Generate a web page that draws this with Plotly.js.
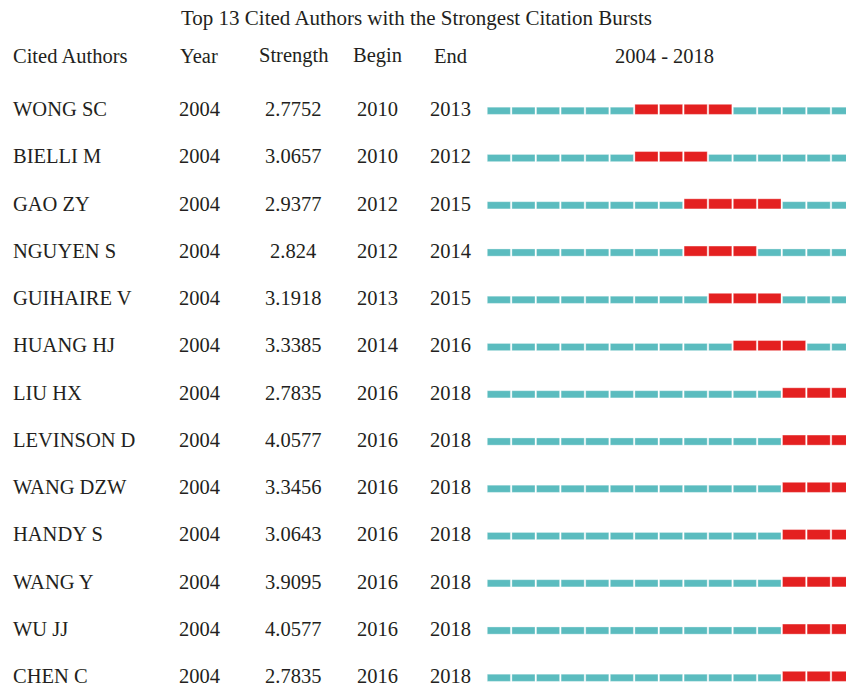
<!DOCTYPE html>
<html>
<head>
<meta charset="utf-8">
<script src="https://cdn.plot.ly/plotly-3.0.1.min.js"></script>
<style>html,body{margin:0;padding:0;background:#fff;}#chart{width:846px;height:686px;}</style>
</head>
<body>
<div id="chart"></div>
<script>
// ---- Data ----
const authors = ["WONG SC","BIELLI M","GAO ZY","NGUYEN S","GUIHAIRE V","HUANG HJ","LIU HX","LEVINSON D","WANG DZW","HANDY S","WANG Y","WU JJ","CHEN C"];
const firstYear = [2004,2004,2004,2004,2004,2004,2004,2004,2004,2004,2004,2004,2004];
const strength = ["2.7752","3.0657","2.9377","2.824","3.1918","3.3385","2.7835","4.0577","3.3456","3.0643","3.9095","4.0577","2.7835"];
const beginYear = [2010,2010,2012,2012,2013,2014,2016,2016,2016,2016,2016,2016,2016];
const endYear = [2013,2012,2015,2014,2015,2016,2018,2018,2018,2018,2018,2018,2018];
const periodStart = 2004;
const periodEnd = 2018;
const headers = ["Cited Authors","Year","Strength","Begin","End"];
const titleText = "Top 13 Cited Authors with the Strongest Citation Bursts";

// ---- Build segments ----
const FONT = "Liberation Serif, Times New Roman, serif";
const TXT = "#231f20";
const segFill = 0.94, segPad = 0.03;
const teal = {x:[], base:[], y:[]};
const red = {x:[], base:[], y:[]};
authors.forEach((a, i) => {
  for (let yr = periodStart; yr <= periodEnd; yr++) {
    const t = (yr >= beginYear[i] && yr <= endYear[i]) ? red : teal;
    t.x.push(segFill); t.base.push(yr + segPad); t.y.push(i);
  }
});

const rowPx = 47.25;
const traces = [
  {type:"bar", orientation:"h", x:teal.x, base:teal.base, y:teal.y,
   width:7.2/rowPx, offset:-1.8/rowPx,
   marker:{color:"#5bbcbf", line:{width:0.6, color:"rgba(255,255,255,0.55)"}}, hoverinfo:"skip", showlegend:false},
  {type:"bar", orientation:"h", x:red.x, base:red.base, y:red.y,
   width:10.1/rowPx, offset:-4.7/rowPx,
   marker:{color:"#e42020", line:{width:0.6, color:"rgba(255,255,255,0.55)"}}, hoverinfo:"skip", showlegend:false}
];

// column positions (paper fractions of 846 px)
const W = 846, H = 686;
const colX = [10.5/W, 199/W, 293/W, 377/W, 450/W];
const anns = [];
const fs = 20.5;
headers.forEach((h, j) => {
  anns.push({xref:"paper", yref:"paper", x:colX[j], y:1-56/H, text:h, showarrow:false,
    xanchor: j===0 ? "left" : "center", yanchor:"middle", font:{family:FONT, size:fs, color:TXT}});
});
anns.push({xref:"paper", yref:"paper", x:664.5/W, y:1-56/H, text:periodStart + " - " + periodEnd, showarrow:false,
  xanchor:"center", yanchor:"middle", font:{family:FONT, size:fs, color:TXT}});
authors.forEach((a, i) => {
  const vals = [a, String(firstYear[i]), strength[i], String(beginYear[i]), String(endYear[i])];
  vals.forEach((v, j) => {
    anns.push({xref:"paper", yref:"y", x:colX[j], y:i, text:v, showarrow:false,
      xanchor: j===0 ? "left" : "center", yanchor:"middle", font:{family:FONT, size:fs, color:TXT}});
  });
});

const pxPerYear = 24.6;
const x0 = (periodStart + segPad) - 487.3/pxPerYear;
const x1 = x0 + W/pxPerYear;
const yTop = -109/rowPx;
const yBot = yTop + H/rowPx;

const layout = {
  width:W, height:H,
  margin:{l:0, r:0, t:0, b:0, pad:0},
  paper_bgcolor:"#fff", plot_bgcolor:"#fff",
  barmode:"overlay",
  title:{text:titleText, x:416.5/W, xanchor:"center", y:1-18/H, yanchor:"middle", yref:"paper",
    font:{family:FONT, size:21, color:TXT}},
  xaxis:{range:[x0, x1], visible:false, fixedrange:true},
  yaxis:{range:[yBot, yTop], visible:false, fixedrange:true},
  annotations:anns,
  showlegend:false
};
Plotly.newPlot("chart", traces, layout, {displayModeBar:false, staticPlot:true});
</script>
</body>
</html>
